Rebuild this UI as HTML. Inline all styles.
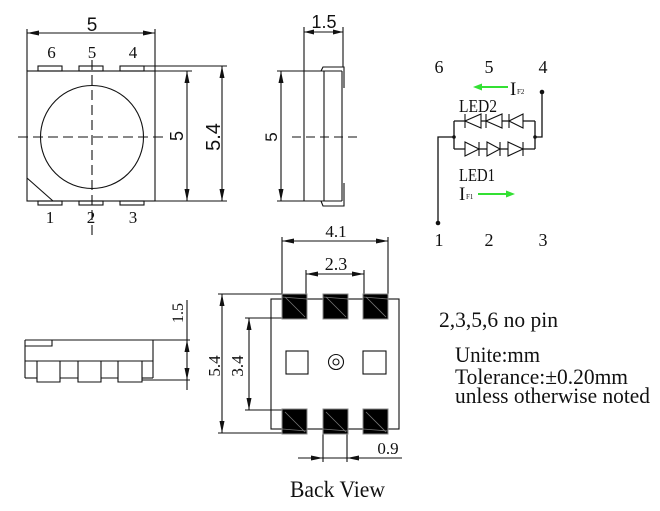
<!DOCTYPE html>
<html><head><meta charset="utf-8"><style>
html,body{margin:0;padding:0;background:#fff;}
svg{display:block;}
text{font-family:"Liberation Serif",serif;fill:#111;}
.s{font-family:"Liberation Sans",sans-serif;}
</style></head><body>
<svg width="660" height="511" viewBox="0 0 660 511" xmlns="http://www.w3.org/2000/svg">
<rect width="660" height="511" fill="#fff"/>
<g stroke="#111" stroke-width="1.1" fill="none">
<!-- TOP VIEW -->
<rect x="27" y="71" width="128" height="130"/>
<rect x="38" y="66" width="24" height="5"/><rect x="79" y="66" width="24" height="5"/><rect x="120" y="66" width="24" height="5"/>
<rect x="38" y="201" width="24" height="4"/><rect x="79" y="201" width="24" height="4"/><rect x="120" y="201" width="24" height="4"/>
<circle cx="92" cy="137" r="51.5"/>
<line x1="27" y1="178" x2="53" y2="201"/>
<line x1="18" y1="137" x2="166" y2="137" stroke-dasharray="10,5"/>
<line x1="92" y1="60" x2="92" y2="235" stroke-dasharray="10,5"/>
<line x1="27" y1="29" x2="27" y2="71"/><line x1="155" y1="29" x2="155" y2="71"/>
<line x1="27" y1="33" x2="155" y2="33"/>
<line x1="144" y1="66" x2="227" y2="66"/><line x1="155" y1="71" x2="192" y2="71"/><line x1="155" y1="201" x2="227" y2="201"/>
<line x1="187" y1="71" x2="187" y2="201"/><line x1="222" y1="66" x2="222" y2="201"/>
<!-- SIDE VIEW -->
<line x1="304" y1="27" x2="304" y2="201"/><line x1="343" y1="27" x2="343" y2="67"/>
<line x1="304" y1="32" x2="343" y2="32"/>
<line x1="277" y1="71" x2="342" y2="71"/><line x1="277" y1="201" x2="342" y2="201"/>
<line x1="324" y1="71" x2="324" y2="201"/><line x1="342" y1="71" x2="342" y2="201"/>
<polyline points="321,71 323,67 344,67 344,88"/>
<polyline points="321,201 323,206 344,206 344,183"/>
<line x1="281" y1="71" x2="281" y2="201"/>
<line x1="292" y1="137" x2="357" y2="137" stroke-dasharray="9,5"/>
<!-- BOTTOM-LEFT SIDE VIEW -->
<line x1="25" y1="340" x2="153" y2="340"/>
<line x1="25" y1="340" x2="25" y2="378"/><line x1="153" y1="340" x2="153" y2="378"/>
<line x1="25" y1="361" x2="153" y2="361"/>
<polyline points="25,346 52,346 52,340"/>
<line x1="25" y1="378" x2="37" y2="378"/><line x1="60" y1="378" x2="78" y2="378"/><line x1="101" y1="378" x2="118" y2="378"/><line x1="142" y1="378" x2="153" y2="378"/>
<polyline points="37,361 37,382 60,382 60,361"/>
<polyline points="78,361 78,382 101,382 101,361"/>
<polyline points="118,361 118,382 142,382 142,361"/>
<line x1="153" y1="340" x2="190" y2="340"/><line x1="142" y1="380" x2="190" y2="380"/>
<line x1="187" y1="300" x2="187" y2="390"/>
<!-- BACK VIEW -->
<rect x="271" y="299" width="128" height="130"/>
<rect x="286" y="351" width="22" height="23"/><rect x="363" y="351" width="23" height="23"/>
<circle cx="336" cy="362" r="7.5"/><circle cx="336" cy="362" r="3"/>
<line x1="282" y1="237" x2="282" y2="294"/><line x1="388" y1="237" x2="388" y2="294"/>
<line x1="282" y1="241" x2="388" y2="241"/>
<line x1="306" y1="270" x2="306" y2="294"/><line x1="364" y1="270" x2="364" y2="294"/>
<line x1="306" y1="274" x2="364" y2="274"/>
<line x1="218" y1="294" x2="282" y2="294"/><line x1="218" y1="433" x2="282" y2="433"/>
<line x1="222" y1="294" x2="222" y2="433"/>
<line x1="245" y1="318" x2="282" y2="318"/><line x1="245" y1="410" x2="282" y2="410"/>
<line x1="249" y1="318" x2="249" y2="410"/>
<line x1="323" y1="429" x2="323" y2="462"/><line x1="347" y1="429" x2="347" y2="462"/>
<line x1="298" y1="458" x2="402" y2="458"/>
</g>
<!-- pads -->
<g>
<rect x="282" y="294" width="25" height="25" fill="#000" stroke="#888" stroke-width="1"/>
<rect x="323" y="294" width="25" height="25" fill="#000" stroke="#888" stroke-width="1"/>
<rect x="363" y="294" width="25" height="25" fill="#000" stroke="#888" stroke-width="1"/>
<rect x="282" y="409" width="25" height="25" fill="#000" stroke="#888" stroke-width="1"/>
<rect x="323" y="409" width="25" height="25" fill="#000" stroke="#888" stroke-width="1"/>
<rect x="363" y="409" width="25" height="25" fill="#000" stroke="#888" stroke-width="1"/>
</g>
<g stroke="#777" stroke-width="0.8">
<line x1="285" y1="297" x2="305" y2="317"/><line x1="326" y1="297" x2="346" y2="317"/><line x1="366" y1="297" x2="386" y2="317"/>
<line x1="285" y1="412" x2="305" y2="432"/><line x1="326" y1="412" x2="346" y2="432"/><line x1="366" y1="412" x2="386" y2="432"/>
<line x1="282" y1="297" x2="307" y2="299"/><line x1="323" y1="297" x2="348" y2="299"/><line x1="363" y1="297" x2="388" y2="299"/>
<line x1="282" y1="429" x2="307" y2="431"/><line x1="323" y1="429" x2="348" y2="431"/><line x1="363" y1="429" x2="388" y2="431"/>
</g>
<!-- arrowheads -->
<g fill="#111" stroke="none">
<polygon points="27,33 39,30.5 39,35.5"/><polygon points="155,33 143,30.5 143,35.5"/>
<polygon points="187,71 184.5,83 189.5,83"/><polygon points="187,201 184.5,189 189.5,189"/>
<polygon points="222,66 219.5,78 224.5,78"/><polygon points="222,201 219.5,189 224.5,189"/>
<polygon points="304,32 314,29.5 314,34.5"/><polygon points="343,32 333,29.5 333,34.5"/>
<polygon points="281,71 278.5,83 283.5,83"/><polygon points="281,201 278.5,189 283.5,189"/>
<polygon points="187,340 184.5,352 189.5,352"/><polygon points="187,380 184.5,368 189.5,368"/>
<polygon points="282,241 294,238.5 294,243.5"/><polygon points="388,241 376,238.5 376,243.5"/>
<polygon points="306,274 318,271.5 318,276.5"/><polygon points="364,274 352,271.5 352,276.5"/>
<polygon points="222,294 219.5,306 224.5,306"/><polygon points="222,433 219.5,421 224.5,421"/>
<polygon points="249,318 246.5,330 251.5,330"/><polygon points="249,410 246.5,398 251.5,398"/>
<polygon points="323,458 311,455.5 311,460.5"/><polygon points="347,458 359,455.5 359,460.5"/>
</g>
<!-- CIRCUIT -->
<g stroke="#111" stroke-width="1.3" fill="none">
<polyline points="542,92 542,137 535,137"/>
<polyline points="454,137 438,137 438,223"/>
<line x1="454" y1="121" x2="535" y2="121"/><line x1="454" y1="149" x2="535" y2="149"/>
<line x1="454" y1="121" x2="454" y2="149"/><line x1="535" y1="121" x2="535" y2="149"/>
</g>
<g stroke="#111" stroke-width="1.1" fill="#fff">
<polygon points="465,121 481,114 481,128"/><line x1="465" y1="114" x2="465" y2="128"/>
<polygon points="486,121 502,114 502,128"/><line x1="486" y1="114" x2="486" y2="128"/>
<polygon points="509,121 523,114 523,128"/><line x1="509" y1="114" x2="509" y2="128"/>
<polygon points="465,142 479,149 465,156"/><line x1="479" y1="142" x2="479" y2="156"/>
<polygon points="487,142 500,149 487,156"/><line x1="500" y1="142" x2="500" y2="156"/>
<polygon points="508,142 523,149 508,156"/><line x1="523" y1="142" x2="523" y2="156"/>
</g>
<g fill="#111">
<circle cx="542" cy="92" r="2.3"/><circle cx="438" cy="223" r="2.3"/>
<circle cx="454" cy="137" r="1.8"/><circle cx="535" cy="137" r="1.8"/>
</g>
<g stroke="#33e033" stroke-width="2"><line x1="478" y1="87" x2="508" y2="87"/><line x1="478" y1="194" x2="510" y2="194"/></g>
<g fill="#33e033"><polygon points="473,87 482,83.5 482,90.5"/><polygon points="515,194 506,190.5 506,197.5"/></g>
<!-- TEXT -->
<text x="92" y="31" class="s" font-size="19" text-anchor="middle">5</text>
<g font-size="17" text-anchor="middle">
<text x="51.5" y="58">6</text><text x="92" y="58">5</text><text x="133" y="58">4</text>
<text x="50" y="223">1</text><text x="91" y="223">2</text><text x="133" y="223">3</text>
</g>
<text class="s" font-size="18" text-anchor="middle" transform="translate(183,136) rotate(-90)">5</text>
<text class="s" font-size="20" text-anchor="middle" transform="translate(220,137) rotate(-90)">5.4</text>
<text class="s" font-size="18" text-anchor="middle" x="324" y="28" textLength="25" lengthAdjust="spacingAndGlyphs">1.5</text>
<text class="s" font-size="17" text-anchor="middle" transform="translate(277,137) rotate(-90)">5</text>
<text font-size="16" text-anchor="middle" transform="translate(183,313) rotate(-90)">1.5</text>
<g font-size="18" text-anchor="middle">
<text x="439" y="73">6</text><text x="489" y="73">5</text><text x="543" y="73">4</text>
<text x="439" y="246">1</text><text x="489" y="246">2</text><text x="543" y="246">3</text>
</g>
<text x="459" y="112" font-size="18" textLength="38" lengthAdjust="spacingAndGlyphs">LED2</text>
<text x="459" y="181" font-size="18" textLength="36" lengthAdjust="spacingAndGlyphs">LED1</text>
<text x="510" y="95" font-size="19">I</text><text x="517" y="94" font-size="7">F2</text>
<text x="459" y="200" font-size="19">I</text><text x="466" y="199" font-size="7">F1</text>
<text x="336" y="237" font-size="17" text-anchor="middle">4.1</text>
<text x="336" y="270" font-size="18" text-anchor="middle">2.3</text>
<text font-size="17" text-anchor="middle" transform="translate(220,366) rotate(-90)">5.4</text>
<text font-size="17" text-anchor="middle" transform="translate(243,366) rotate(-90)">3.4</text>
<text x="388" y="454" font-size="17" text-anchor="middle">0.9</text>
<text x="290" y="497" font-size="23" textLength="95" lengthAdjust="spacingAndGlyphs">Back View</text>
<text x="439" y="327" font-size="22" textLength="119" lengthAdjust="spacingAndGlyphs">2,3,5,6 no pin</text>
<text x="455" y="362" font-size="22" textLength="85" lengthAdjust="spacingAndGlyphs">Unite:mm</text>
<text x="455" y="384" font-size="22" textLength="173" lengthAdjust="spacingAndGlyphs">Tolerance:±0.20mm</text>
<text x="455" y="403" font-size="22" textLength="195" lengthAdjust="spacingAndGlyphs">unless otherwise noted</text>
</svg>
</body></html>
